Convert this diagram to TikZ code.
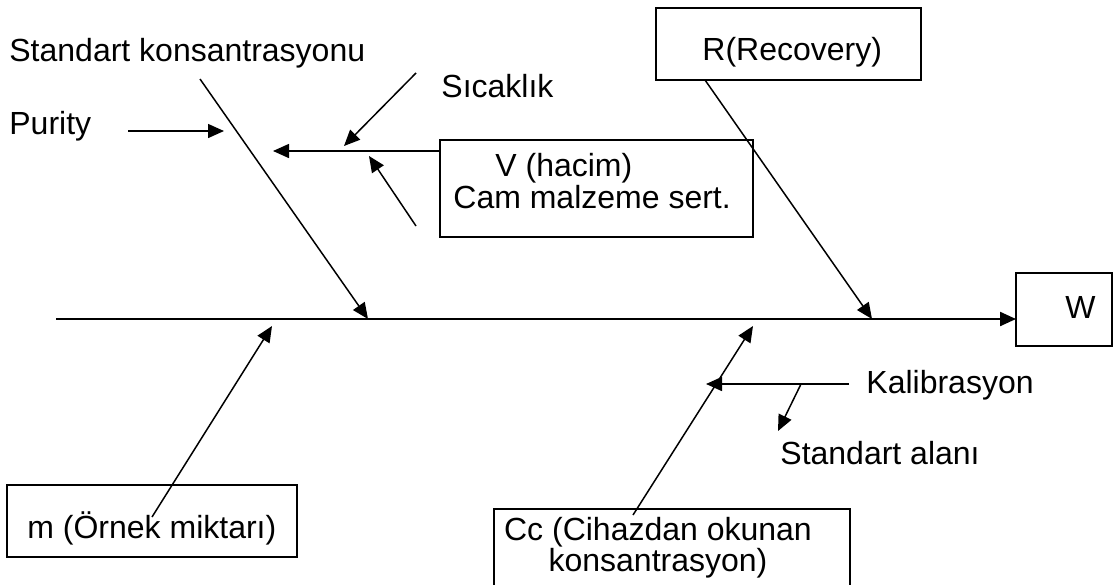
\documentclass[tikz,border=0pt]{standalone}
\usepackage{fontspec}
\setmainfont{Liberation Sans}
\usetikzlibrary{arrows.meta}

\begin{document}
\begin{tikzpicture}[x=0.5pt, y=-0.5pt, >={Triangle[length=8pt,width=7pt]},
  kutu/.style={draw, line width=0.8pt, inner sep=0pt, outer sep=0pt, anchor=north west},
  yazi/.style={anchor=base west, inner sep=0pt, font=\fontsize{16}{14.5}\selectfont},
  ok/.style={->, line width=0.75pt}]

  \useasboundingbox (0,0) rectangle (1117,584);

  % --- 1. kutular ---
  \node[kutu, minimum width=132.5pt, minimum height=36pt] (rkutu) at (656,8) {};
  \node[kutu, minimum width=156.5pt, minimum height=48.5pt] (vkutu) at (440,140) {};
  \node[kutu, minimum width=48pt, minimum height=36.5pt] (wkutu) at (1016,273) {};
  \node[kutu, minimum width=145pt, minimum height=36pt] (mkutu) at (7,485) {};
  \node[kutu, minimum width=178pt, minimum height=42pt] (ckutu) at (494,509) {};

  % --- 2. yazilar ---
  \node[yazi] (tstd) at (9,61) {Standart konsantrasyonu};
  \node[yazi] (tpur) at (9,134) {Purity};
  \node[yazi] (tsic) at (441,97) {Sıcaklık};
  \node[yazi] (tv) at (495,176) {V (hacim)};
  \node[yazi] (tcam) at (453,208) {Cam malzeme sert.};
  \node[yazi] (tr) at (702,60) {R(Recovery)};
  \node[yazi] (tw) at (1065,318) {W};
  \node[yazi] (tkal) at (866,393) {Kalibrasyon};
  \node[yazi] (talan) at (780,464) {Standart alanı};
  \node[yazi] (tm) at (27,538) {m (Örnek miktarı)};
  \node[yazi, anchor=base, align=center] (tcc) at (658,571) {Cc (Cihazdan okunan\\[-0.5pt]konsantrasyon)};

  % --- 3. uc noktalari ---
  \coordinate (sbas) at (56,319);
  \coordinate (stdA) at (200,79);   \coordinate (stdB) at (368,319);
  \coordinate (purA) at (128,131);  \coordinate (purB) at (224,131);
  \coordinate (vB) at (273,151);
  \coordinate (sicA) at (416,73);   \coordinate (sicB) at (344,146);
  \coordinate (altA) at (416,226);  \coordinate (altB) at (369,156);
  \coordinate (rB) at (872,319);
  \coordinate (mA) at (152,517);    \coordinate (mB) at (272,326);
  \coordinate (ccA) at (633,515);   \coordinate (ccB) at (753,326);
  \coordinate (kalA) at (849,384);  \coordinate (kalB) at (706,384);
  \coordinate (alnA) at (801,384);  \coordinate (alnB) at (778,431);

  % --- 4. oklar ---
  \draw[->, line width=1.1pt] (sbas) -- (wkutu.west |- sbas);
  \draw[ok] (stdA) -- (stdB);
  \draw[ok] (purA) -- (purB);
  \draw[ok] ([yshift=-5.5pt]vkutu.north west) -- (vB);
  \draw[ok] (sicA) -- (sicB);
  \draw[ok] (altA) -- (altB);
  \draw[ok] ([xshift=24.5pt]rkutu.south west) -- (rB);
  \draw[ok] (mA) -- (mB);
  \draw[ok] (ccA) -- (ccB);
  \draw[ok] (kalA) -- (kalB);
  \draw[ok] (alnA) -- (alnB);

\end{tikzpicture}
\end{document}
